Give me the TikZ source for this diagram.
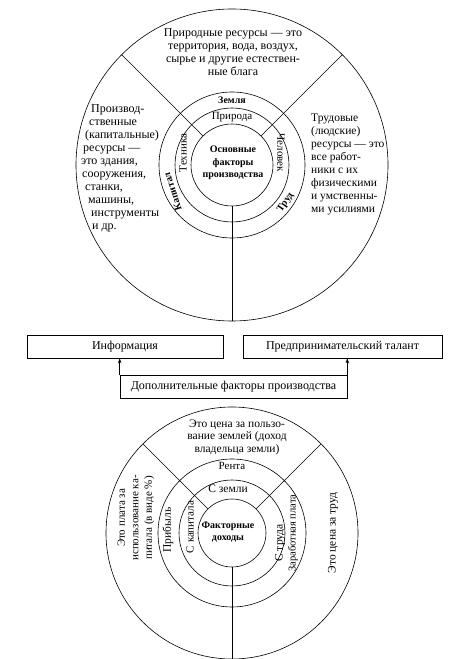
\documentclass[tikz,border=0pt]{standalone}
\usepackage{fontspec}
\setmainfont{Liberation Serif}
\usetikzlibrary{arrows.meta}
\begin{document}
\begin{tikzpicture}[x=1pt,y=1pt,
  lbl/.style={inner sep=0pt, font=\fontsize{12}{13}\selectfont, align=center},
  rlbl/.style={inner sep=0pt, font=\fontsize{11}{13}\selectfont, align=center},
  blbl/.style={inner sep=0pt, font=\fontsize{10}{12.5}\selectfont\bfseries, align=center},
  slbl/.style={inner sep=0pt, font=\fontsize{11.5}{12.5}\selectfont, align=center},
  ring/.style={line width=0.6pt},
  box/.style={draw, line width=0.6pt, minimum height=23pt, inner sep=0pt, font=\fontsize{12}{13}\selectfont},
  arr/.style={-{Stealth[length=5pt,width=3.5pt]}, line width=0.6pt}]
\useasboundingbox (0,0) rectangle (473,659);
% ---------- top circle ----------
\coordinate (T) at (232,494);
\draw[ring] (T) circle[radius=156];
\draw[ring] (T) circle[radius=73];
\draw[ring] (T) circle[radius=57];
\draw[ring] (T) circle[radius=41];
\draw[ring] ([shift={(135:41)}]T) -- ([shift={(135:156)}]T);
\draw[ring] ([shift={(45:41)}]T) -- ([shift={(45:156)}]T);
\draw[ring] ([shift={(270:41)}]T) -- ([shift={(270:156)}]T);
\node[lbl] (nat) at (233,606.5) {Природные ресурсы — это\\территория, вода, воздух,\\сырье и другие естествен-\\ные блага};
\node[lbl, align=left, anchor=west] (prod) at (81,491) {\hspace*{10pt}Производ-\\\hspace*{8pt}ственные\\\hspace*{4pt}(капитальные)\\\hspace*{2pt}ресурсы —\\это здания,\\\hspace*{1pt}сооружения,\\\hspace*{4pt}станки,\\\hspace*{7pt}машины,\\\hspace*{10pt}инструменты\\\hspace*{11pt}и др.};
\node[lbl, font=\fontsize{11.5}{13}\selectfont, align=left, anchor=west] (trudres) at (311,494.5) {Трудовые\\(людские)\\ресурсы — это\\все работ-\\ники с их\\физическими\\и умственны-\\ми усилиями};
\node[blbl] (zem) at (232,559) {Земля};
\node[rlbl] (prir) at (232,542) {Природа};
\node[blbl] (osn) at (233,496) {Основные\\факторы\\производства};
\node[rlbl, rotate=90] (tech) at (183,506) {Техника};
\node[rlbl, rotate=-90] (chel) at (281,506) {Человек};
\node[blbl, rotate=108] (kap) at ([shift={(204:65)}]T) {Капитал};
\node[blbl, rotate=55] (trud) at ([shift={(-35:65.5)}]T) {Труд};
% ---------- boxes ----------
\node[box, minimum width=196pt] (info) at (125,312.5) {Информация};
\node[box, minimum width=199pt] (pred) at (342.5,312.5) {Предпринимательский талант};
\node[box, minimum width=227pt] (dop) at (233.5,272.5) {Дополнительные факторы производства};
\draw[arr] (dop.north west) -- (dop.north west |- info.south);
\draw[arr] (dop.north east) -- (dop.north east |- pred.south);
% ---------- bottom circle ----------
\coordinate (B) at (232,126);
\draw[ring] (B) circle[radius=126];
\draw[ring] (B) circle[radius=74];
\draw[ring] (B) circle[radius=53];
\draw[ring] (B) circle[radius=34];
\draw[ring] ([shift={(135:34)}]B) -- ([shift={(135:126)}]B);
\draw[ring] ([shift={(45:34)}]B) -- ([shift={(45:126)}]B);
\draw[ring] ([shift={(270:34)}]B) -- ([shift={(270:126)}]B);
\node[slbl] (price) at (237,222) {Это цена за пользо-\\вание землей (доход\\владельца земли)};
\node[slbl, font=\fontsize{11}{12.5}\selectfont] (rent) at (232,193) {Рента};
\node[slbl] (szem) at (228,170) {С земли};
\node[blbl, font=\fontsize{10}{11.5}\selectfont\bfseries] (fakt) at (228,127) {Факторные\\доходы};
\node[slbl, font=\fontsize{11}{12.5}\selectfont, rotate=90] (skap) at (190,132) {С капитала};
\node[slbl, rotate=90] (prib) at (168,129) {Прибыль};
\node[slbl, rotate=90] (strud) at (280,116) {С труда};
\node[slbl, rotate=90, font=\fontsize{10.5}{12}\selectfont] (zarp) at (293,126) {Заработная плата};
\node[slbl, rotate=90, font=\fontsize{11}{13.5}\selectfont] (plata) at (136,141) {Это плата за\\использование ка-\\питала (в виде \%)};
\node[slbl, rotate=90] (cenatr) at (333,126) {Это цена за труд};
\end{tikzpicture}
\end{document}
